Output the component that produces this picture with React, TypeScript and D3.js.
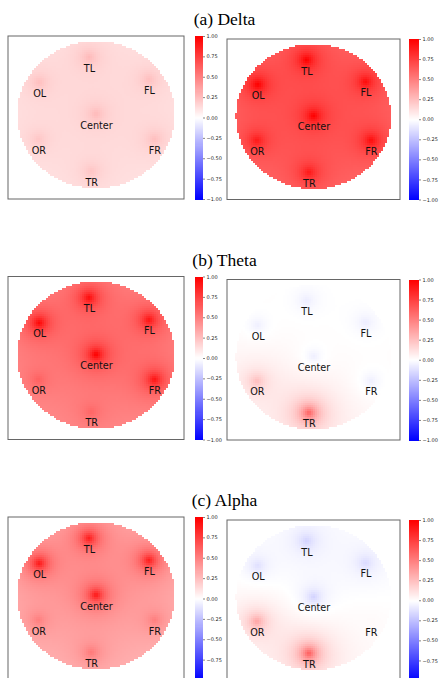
import React, { useEffect, useRef } from 'react'
import * as d3 from 'd3'

const bands = ['(a) Delta', '(b) Theta', '(c) Alpha']
const sites = ['TL', 'OL', 'FL', 'Center', 'OR', 'FR', 'TR']
// electrode positions on the unit head circle
const siteX = [-0.09, -0.72, 0.67, 0.0, -0.73, 0.74, -0.06]
const siteY = [-0.78, -0.44, -0.48, -0.01, 0.33, 0.33, 0.77]

// values at TL, OL, FL, Center, OR, FR, TR
const deltaLeft = [0.27, 0.25, 0.25, 0.27, 0.22, 0.25, 0.23]
const deltaRight = [1.0, 1.0, 0.95, 1.0, 0.9, 0.95, 0.9]
const thetaLeft = [0.95, 0.97, 0.92, 1.0, 0.62, 0.92, 0.6]
const thetaRight = [-0.07, -0.06, -0.07, -0.06, 0.25, -0.06, 0.6]
const alphaLeft = [0.88, 0.9, 0.88, 0.9, 0.5, 0.5, 0.52]
const alphaRight = [-0.17, -0.12, -0.14, -0.17, 0.35, 0.02, 0.62]
// level far from the electrodes
const baseLeft = [0.08, 0.36, 0.2]
const baseRight = [0.5, 0.01, 0.0]

const cbTicks = [-1, -0.75, -0.5, -0.25, 0, 0.25, 0.5, 0.75, 1]

const leftVals = [deltaLeft, thetaLeft, alphaLeft]
const rightVals = [deltaRight, thetaRight, alphaRight]

const rowTop = [36, 276.5, 517]
const W0 = 20
const P = 1.5
const CELL = 2

const color = d3.scaleLinear<string>()
    .domain([-1, 0, 1])
    .range(['#0000ff', '#ffffff', '#ff0000'])
    .interpolate(d3.interpolateRgb)
    .clamp(true)

function field(x: number, y: number, vals: number[], base: number) {
    let num = W0 * base, den = W0
    for (let i = 0; i < vals.length; i++) {
        const d2 = (x - siteX[i]) ** 2 + (y - siteY[i]) ** 2
        if (d2 < 1e-6) return vals[i]
        const w = 1 / Math.pow(d2, P / 2)
        num += w * vals[i]
        den += w
    }
    return num / den
}

function drawMap(svg: any, x0: number, y0: number, w: number, h: number, vals: number[], base: number) {
    const xs = d3.scaleLinear().domain([-1.115, 1.115]).range([x0, x0 + w])
    const ys = d3.scaleLinear().domain([-1.07, 1.145]).range([y0, y0 + h])
    const g = svg.append('g')
    g.append('rect').attr('x', x0).attr('y', y0).attr('width', w).attr('height', h)
        .attr('fill', '#fff')

    const cells: { x: number, y: number, v: number }[] = []
    for (let px = Math.floor(x0); px < x0 + w; px += CELL) {
        for (let py = Math.floor(y0); py < y0 + h; py += CELL) {
            const xv = xs.invert(px + CELL / 2), yv = ys.invert(py + CELL / 2)
            if (xv * xv + yv * yv <= 1) cells.push({ x: px, y: py, v: field(xv, yv, vals, base) })
        }
    }
    g.append('g').attr('shape-rendering', 'crispEdges')
        .selectAll('rect').data(cells).join('rect')
        .attr('x', d => d.x).attr('y', d => d.y)
        .attr('width', CELL).attr('height', CELL)
        .attr('fill', d => color(d.v))

    g.append('rect').attr('x', x0).attr('y', y0).attr('width', w).attr('height', h)
        .attr('fill', 'none').attr('stroke', '#666').attr('stroke-width', 1)

    g.selectAll('text.site').data(sites).join('text')
        .attr('class', 'site')
        .attr('x', (d, i) => xs(siteX[i]) + 0.5)
        .attr('y', (d, i) => ys(siteY[i]) + 14.5)
        .attr('text-anchor', 'middle')
        .attr('font-family', 'DejaVu Sans')
        .attr('font-size', 9.7)
        .attr('fill', '#111')
        .text(d => d)
}

function drawColorbar(svg: any, x0: number, y0: number, w: number, h: number) {
    const cs = d3.scaleLinear().domain([-1, 1]).range([y0 + h, y0])
    const steps = d3.range(-1, 1, 2 / 160)
    const g = svg.append('g')
    g.append('g').attr('shape-rendering', 'crispEdges')
        .selectAll('rect').data(steps).join('rect')
        .attr('x', x0).attr('width', w)
        .attr('y', d => cs(d + 2 / 160))
        .attr('height', Math.abs(cs(0) - cs(2 / 160)) + 0.5)
        .attr('fill', d => color(d + 1 / 160))
    const ax = g.append('g').attr('transform', `translate(${x0 + w},0)`)
        .call(d3.axisRight(cs).tickValues(cbTicks).tickFormat(d3.format('.2f')).tickSize(2).tickPadding(1.5))
    ax.select('.domain').remove()
    ax.selectAll('line').attr('stroke', '#333').attr('stroke-width', 0.6)
    ax.selectAll('text').attr('font-family', 'DejaVu Sans').attr('font-size', 5).attr('fill', '#222')
}

function drawAll(el: SVGSVGElement) {
    const svg = d3.select(el)
    svg.selectAll('*').remove()
    bands.forEach((b, r) => {
        const top = rowTop[r]
        svg.append('text').attr('x', 224.5).attr('y', top - 11)
            .attr('text-anchor', 'middle')
            .attr('font-family', 'Liberation Serif')
            .attr('font-size', 17.5)
            .attr('fill', '#000')
            .text(b)
        drawMap(svg, 8, top, 176, 163, leftVals[r], baseLeft[r])
        drawColorbar(svg, 195, top, 8, 163)
        drawMap(svg, 227, top + 3, 173, 160.5, rightVals[r], baseRight[r])
        drawColorbar(svg, 409, top + 3, 10, 160.5)
    })
}

const App = () => {
    const ref = useRef<SVGSVGElement>(null)
    useEffect(() => {
        if (ref.current) drawAll(ref.current)
    }, [])
    return (
        <svg ref={ref} width={440} height={678}
            style={{ position: 'absolute', left: 0, top: 0, background: '#fff' }} />
    )
}

export default App
